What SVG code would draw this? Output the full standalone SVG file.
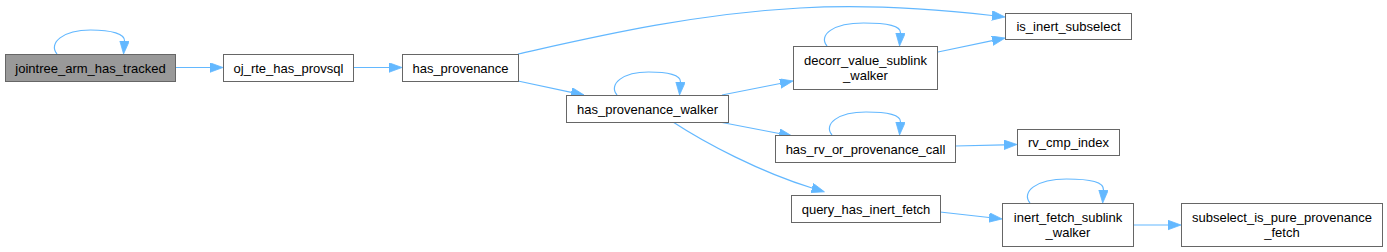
<svg xmlns="http://www.w3.org/2000/svg" width="1387" height="252" viewBox="0 0 1387 252">
<style>
.node rect{fill:#ffffff;stroke:#666666;stroke-width:1}
.node.main rect{fill:#999999}
.node text{font-family:"Liberation Sans",Arial,Helvetica,sans-serif;font-size:13px;fill:#000000;text-anchor:middle}
.edges path{fill:none;stroke:#63b8ff;stroke-width:1.2;marker-end:url(#arr)}
</style>
<defs>
<marker id="arr" markerUnits="userSpaceOnUse" markerWidth="14" markerHeight="11" refX="0" refY="4.75" orient="auto">
<path d="M0,0 L13,4.75 L0,9.5 Z" fill="#63b8ff" stroke="#63b8ff" stroke-width="0.8"/>
</marker>
</defs>
<rect width="1387" height="252" fill="#ffffff"/>
<g id="edges" class="edges">
<path d="M57,54 C48,43 63,30 90.5,30 C112,30 125,34 124.5,41"/>
<path d="M617,95 C608,84 623,72 648.5,72 C668,72 681,75 680.5,82"/>
<path d="M827,46 C818,35 833,23 863.5,23 C888,23 901,26 900.5,33"/>
<path d="M832,135 C823,124 838,112 866,112 C888,112 901,115 900.5,122"/>
<path d="M1030,203 C1021,192 1036,179 1066.5,179 C1091,179 1104,182 1103.5,190"/>
<path d="M176,67.5 L210,67.5"/>
<path d="M353,67.5 L389,67.5"/>
<path d="M518,54 C590,38 690,14 800,8 C870,4 935,9 992,15.5"/>
<path d="M518,81 L571.3,92.3"/>
<path d="M722,95 L780.2,83.5"/>
<path d="M938,52 L992.3,40.7"/>
<path d="M722,122.5 L779.2,133.5"/>
<path d="M955,146 L1004,144.8"/>
<path d="M673,122 C705,143 760,172 812,188"/>
<path d="M940,212 L989.1,217.5"/>
<path d="M1133,225 L1168,225"/>
</g>
<g id="jointree_arm_has_tracked" class="node main"><rect x="5.5" y="54.5" width="170" height="27"/><text x="90.5" y="72.5">jointree_arm_has_tracked</text></g>
<g id="oj_rte_has_provsql" class="node"><rect x="223.5" y="54.5" width="130" height="27"/><text x="288.5" y="72.5">oj_rte_has_provsql</text></g>
<g id="has_provenance" class="node"><rect x="402.5" y="54.5" width="116" height="27"/><text x="460.5" y="72.5">has_provenance</text></g>
<g id="has_provenance_walker" class="node"><rect x="566.5" y="95.5" width="162" height="27"/><text x="647.5" y="113.5">has_provenance_walker</text></g>
<g id="decorr_value_sublink_walker" class="node"><rect x="793.5" y="46.5" width="144" height="43"/><text x="865.5" y="64.5">decorr_value_sublink</text><text x="865.5" y="79.5">_walker</text></g>
<g id="is_inert_subselect" class="node"><rect x="1005.5" y="13.5" width="126" height="26"/><text x="1068.5" y="31">is_inert_subselect</text></g>
<g id="has_rv_or_provenance_call" class="node"><rect x="775.5" y="135.5" width="180" height="27"/><text x="865.5" y="153.5">has_rv_or_provenance_call</text></g>
<g id="rv_cmp_index" class="node"><rect x="1017.5" y="129.5" width="102" height="26"/><text x="1068.5" y="147">rv_cmp_index</text></g>
<g id="query_has_inert_fetch" class="node"><rect x="791.5" y="195.5" width="149" height="27"/><text x="866" y="213.5">query_has_inert_fetch</text></g>
<g id="inert_fetch_sublink_walker" class="node"><rect x="1002.5" y="203.5" width="131" height="43"/><text x="1068" y="221.5">inert_fetch_sublink</text><text x="1068" y="236.5">_walker</text></g>
<g id="subselect_is_pure_provenance_fetch" class="node"><rect x="1181.5" y="203.5" width="201" height="43"/><text x="1282" y="221.5">subselect_is_pure_provenance</text><text x="1282" y="236.5">_fetch</text></g>
</svg>
